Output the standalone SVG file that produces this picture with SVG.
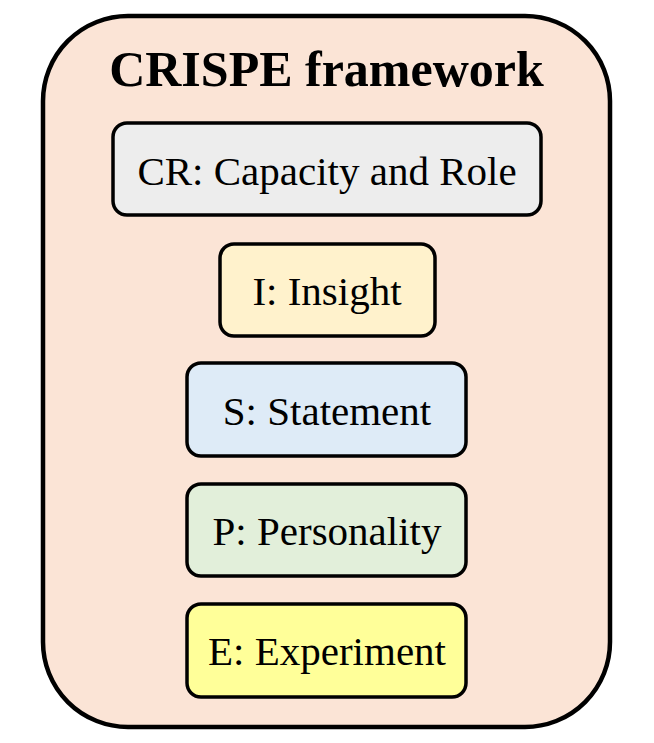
<svg xmlns="http://www.w3.org/2000/svg" width="654" height="743" viewBox="0 0 654 743">
<style>
.box{stroke:#000;stroke-width:3.5}
.lbl{font-family:"Liberation Serif","Times New Roman",serif;font-size:41px;fill:#000;text-anchor:middle}
.title{font-family:"Liberation Serif","Times New Roman",serif;font-size:50px;font-weight:bold;fill:#000;text-anchor:middle}
</style>
<g id="frame">
<rect x="43" y="16" width="567" height="711" rx="85" ry="85" fill="#FBE4D6" stroke="#000" stroke-width="4.5"/>
<text class="title" x="326.5" y="86">CRISPE framework</text>
</g>
<g id="connectors"></g>
<g id="cr">
<rect class="box" x="113" y="123" width="428" height="92" rx="14" fill="#EDEDED"/>
<text class="lbl" x="327" y="185">CR: Capacity and Role</text>
</g>
<g id="i">
<rect class="box" x="220" y="244" width="215" height="92" rx="14" fill="#FFF2CC"/>
<text class="lbl" x="327" y="305">I: Insight</text>
</g>
<g id="s">
<rect class="box" x="187" y="363" width="279" height="93" rx="14" fill="#DEEBF7"/>
<text class="lbl" x="327" y="425">S: Statement</text>
</g>
<g id="p">
<rect class="box" x="187" y="484" width="279" height="92" rx="14" fill="#E2EFDA"/>
<text class="lbl" x="327" y="545">P: Personality</text>
</g>
<g id="e">
<rect class="box" x="187" y="604" width="279" height="93" rx="14" fill="#FFFF99"/>
<text class="lbl" x="327" y="665">E: Experiment</text>
</g>
</svg>
